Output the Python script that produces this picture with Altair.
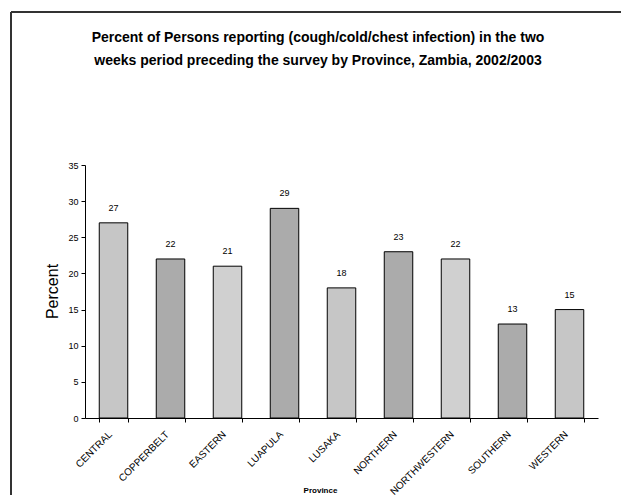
import altair as alt
import pandas as pd

provinces = ["CENTRAL", "COPPERBELT", "EASTERN", "LUAPULA", "LUSAKA",
             "NORTHERN", "NORTHWESTERN", "SOUTHERN", "WESTERN"]
percent = [27, 22, 21, 29, 18, 23, 22, 13, 15]
y_ticks = [0, 5, 10, 15, 20, 25, 30, 35]
title_lines = [
    "Percent of Persons reporting (cough/cold/chest infection) in the two",
    "weeks period preceding the survey by Province, Zambia, 2002/2003",
]

# alternating grey shading of the columns
shades = ["#c6c6c6", "#ababab", "#d0d0d0", "#ababab", "#c6c6c6",
          "#ababab", "#d0d0d0", "#ababab", "#c6c6c6"]

df = pd.DataFrame({"Province": provinces, "Percent": percent})

FONT = "Liberation Sans"

x_enc = alt.X(
    "Province:N",
    sort=provinces,
    scale=alt.Scale(paddingInner=0.5, paddingOuter=0.25),
    axis=alt.Axis(
        title="Province",
        titleFont=FONT, titleFontSize=8, titleFontWeight="bold",
        titleX=235, titleY=72, titleBaseline="middle",
        labelAngle=-45, labelFont=FONT, labelFontSize=10, labelColor="#000",
        labelPadding=7, labelOffset=-7, labelOverlap=False,
        tickBand="extent", tickSize=4, tickColor="#000",
        domainColor="#000", domainWidth=1,
    ),
)

y_enc = alt.Y(
    "Percent:Q",
    scale=alt.Scale(domain=[0, 35], nice=False),
    axis=alt.Axis(
        title="Percent",
        titleFont=FONT, titleFontSize=16, titleFontWeight="normal",
        titleX=-33, titleY=126, titleAngle=-90, titleBaseline="middle",
        values=y_ticks, grid=False, labelOverlap=False,
        labelFont=FONT, labelFontSize=9, labelColor="#000", labelPadding=3,
        tickSize=4, tickColor="#000", domainColor="#000", domainWidth=1,
    ),
)

# bars and their value labels share one set of axes
base = alt.Chart(df).encode(x=x_enc, y=y_enc)

bars = base.mark_bar(stroke="#000", strokeWidth=1).encode(
    color=alt.Color("Province:N", scale=alt.Scale(domain=provinces, range=shades),
                    legend=None),
)

labels = base.mark_text(font=FONT, fontSize=9, color="#000", dy=-15,
                        baseline="middle").encode(text="Percent:Q")


# two-line heading above the plot
def heading_line(text, y):
    return alt.Chart(pd.DataFrame({"line": [text]})).mark_text(
        font=FONT, fontSize=14, fontWeight="bold", color="#000",
        align="center", baseline="middle",
    ).encode(x=alt.value(233), y=alt.value(y), text="line:N")


heading1 = heading_line(title_lines[0], -127)
heading2 = heading_line(title_lines[1], -104)

# outer frame around the figure
frame_top = alt.Chart(df).mark_rule(color="#333", strokeWidth=2).encode(
    x=alt.value(-74), x2=alt.value(700), y=alt.value(-153))
frame_left = alt.Chart(df).mark_rule(color="#333", strokeWidth=2).encode(
    x=alt.value(-74), y=alt.value(-153), y2=alt.value(400))

chart = alt.layer(frame_top, frame_left, heading1, heading2, bars, labels).properties(
    width=513,
    height=253,
    autosize=alt.AutoSizeParams(type="none"),
    padding={"left": 85, "top": 165, "right": 23, "bottom": 77},
    background="white",
).configure_view(stroke=None)

chart.save("out.html", embed_options={"renderer": "svg", "actions": False})
